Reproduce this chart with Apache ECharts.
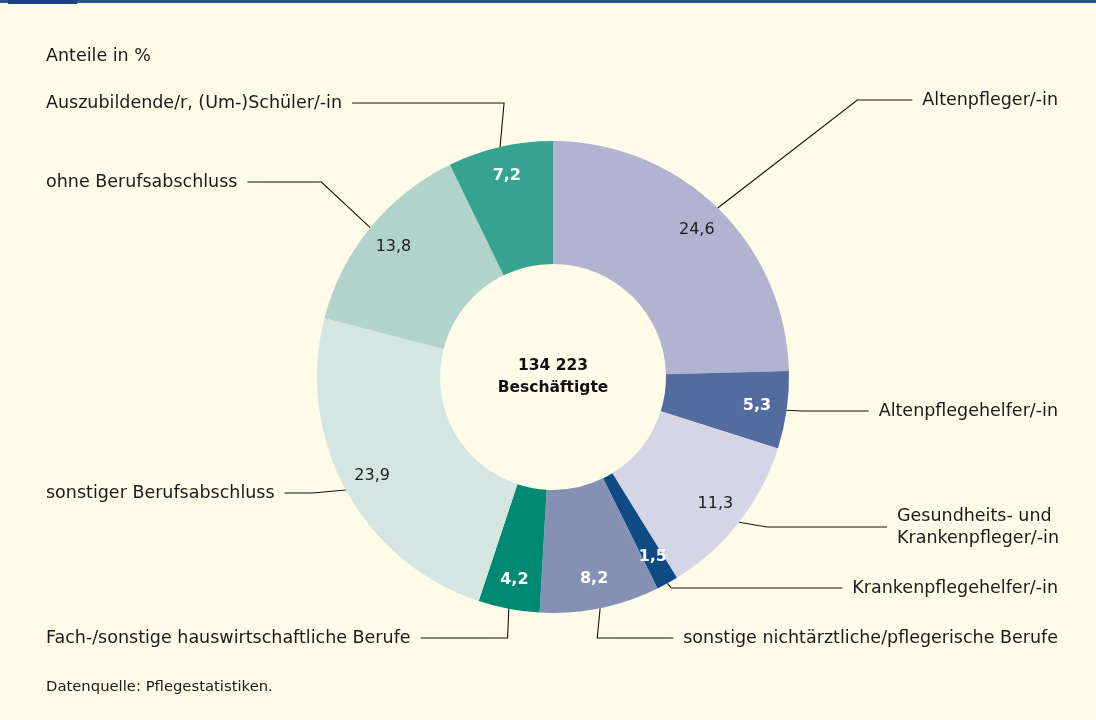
<!DOCTYPE html>
<html>
<head>
<meta charset="utf-8">
<script src="https://cdn.jsdelivr.net/npm/echarts@6/dist/echarts.min.js"></script>
<style>
  html, body { margin: 0; padding: 0; background: #FEFBE9; }
  #chart { width: 1096px; height: 720px; }
</style>
</head>
<body>
<div id="chart"></div>
<script>
// Beschäftigte nach Berufsabschluss, Anteile in %
const categories = [
  'Altenpfleger/-in',
  'Altenpflegehelfer/-in',
  'Gesundheits- und\nKrankenpfleger/-in',
  'Krankenpflegehelfer/-in',
  'sonstige nichtärztliche/pflegerische Berufe',
  'Fach-/sonstige hauswirtschaftliche Berufe',
  'sonstiger Berufsabschluss',
  'ohne Berufsabschluss',
  'Auszubildende/r, (Um-)Schüler/-in'
];
const shares = [24.6, 5.3, 11.3, 1.5, 8.2, 4.2, 23.9, 13.8, 7.2];
const totalLabel = '134 223\nBeschäftigte';

const colors = ['#B0B4D0', '#546B9D', '#D4D6E6', '#0E4B82', '#8690B5', '#008A74', '#D5E5E1', '#B2D3CB', '#36A391'];
// dunkle Segmente bekommen weiße, fette Werte
const darkSlice = [false, true, false, true, true, true, false, false, true];

// Lage der Beschriftungen aussen: [x, y, align, length2]
const labelPos = [
  [1068, 100, 'right', 55],
  [1068, 411, 'right', 67],
  [887, 527, 'left', 120],
  [1068, 588, 'right', 171],
  [1068, 638, 'right', 76],
  [36, 638, 'left', 87],
  [36, 493, 'left', 28],
  [36, 182, 'left', 74],
  [36, 103, 'left', 152]
];

const FONT = '"DejaVu Sans", sans-serif';
const center = [553, 377];

const chart = echarts.init(document.getElementById('chart'));

const ringData = categories.map((name, i) => ({
  name: name,
  value: shares[i],
  itemStyle: { color: colors[i] },
  labelLine: { length2: labelPos[i][3] }
}));

const valueData = categories.map((name, i) => ({
  name: name,
  value: shares[i],
  label: {
    color: darkSlice[i] ? '#ffffff' : '#1a1a1a',
    fontWeight: darkSlice[i] ? 'bold' : 'normal'
  }
}));

const option = {
  backgroundColor: '#FEFBE9',
  animation: false,
  graphic: [
    { type: 'rect', left: 0, top: 0, shape: { width: 1096, height: 3 }, style: { fill: '#24578F' } },
    { type: 'rect', left: 8, top: 0, shape: { width: 69, height: 4 }, style: { fill: '#164580' } },
    {
      type: 'text', left: 46, top: 47,
      style: { text: 'Anteile in %', font: '17.5px ' + FONT, fill: '#1a1a1a' }
    },
    {
      type: 'text', left: 46, top: 680,
      style: { text: 'Datenquelle: Pflegestatistiken.', font: '14.8px ' + FONT, fill: '#1a1a1a' }
    },
    {
      type: 'text', x: center[0], y: center[1],
      style: {
        text: totalLabel, font: 'bold 15.5px ' + FONT, fill: '#111',
        align: 'center', verticalAlign: 'middle', lineHeight: 22
      }
    }
  ],
  series: [
    {
      // Ring mit Beschriftung aussen
      type: 'pie',
      center: center,
      radius: [113, 236],
      startAngle: 90,
      clockwise: true,
      avoidLabelOverlap: false,
      emphasis: { disabled: true },
      itemStyle: { borderWidth: 0 },
      label: {
        show: true,
        position: 'outside',
        alignTo: 'none',
        overflow: 'none',
        formatter: '{b}',
        fontFamily: FONT,
        fontSize: 17.5,
        lineHeight: 22,
        color: '#1a1a1a',
        padding: [2, 10],
        backgroundColor: 'rgba(0,0,0,0)'
      },
      labelLine: {
        show: true,
        smooth: false,
        minTurnAngle: 0,
        lineStyle: { color: '#111', width: 1.1 }
      },
      labelLayout: function (params) {
        const p = labelPos[params.dataIndex];
        return { x: p[0], y: p[1], align: p[2], verticalAlign: 'middle', hideOverlap: false };
      },
      data: ringData
    },
    {
      // unsichtbarer Ring nur für die Werte
      type: 'pie',
      center: center,
      radius: [170, 236],
      startAngle: 90,
      clockwise: true,
      silent: true,
      avoidLabelOverlap: false,
      itemStyle: { color: 'rgba(0,0,0,0)', borderWidth: 0 },
      label: {
        show: true,
        position: 'inside',
        fontFamily: FONT,
        fontSize: 16,
        formatter: p => String(p.value).replace('.', ',')
      },
      labelLine: { show: false },
      data: valueData
    }
  ]
};

chart.setOption(option);
</script>
</body>
</html>
